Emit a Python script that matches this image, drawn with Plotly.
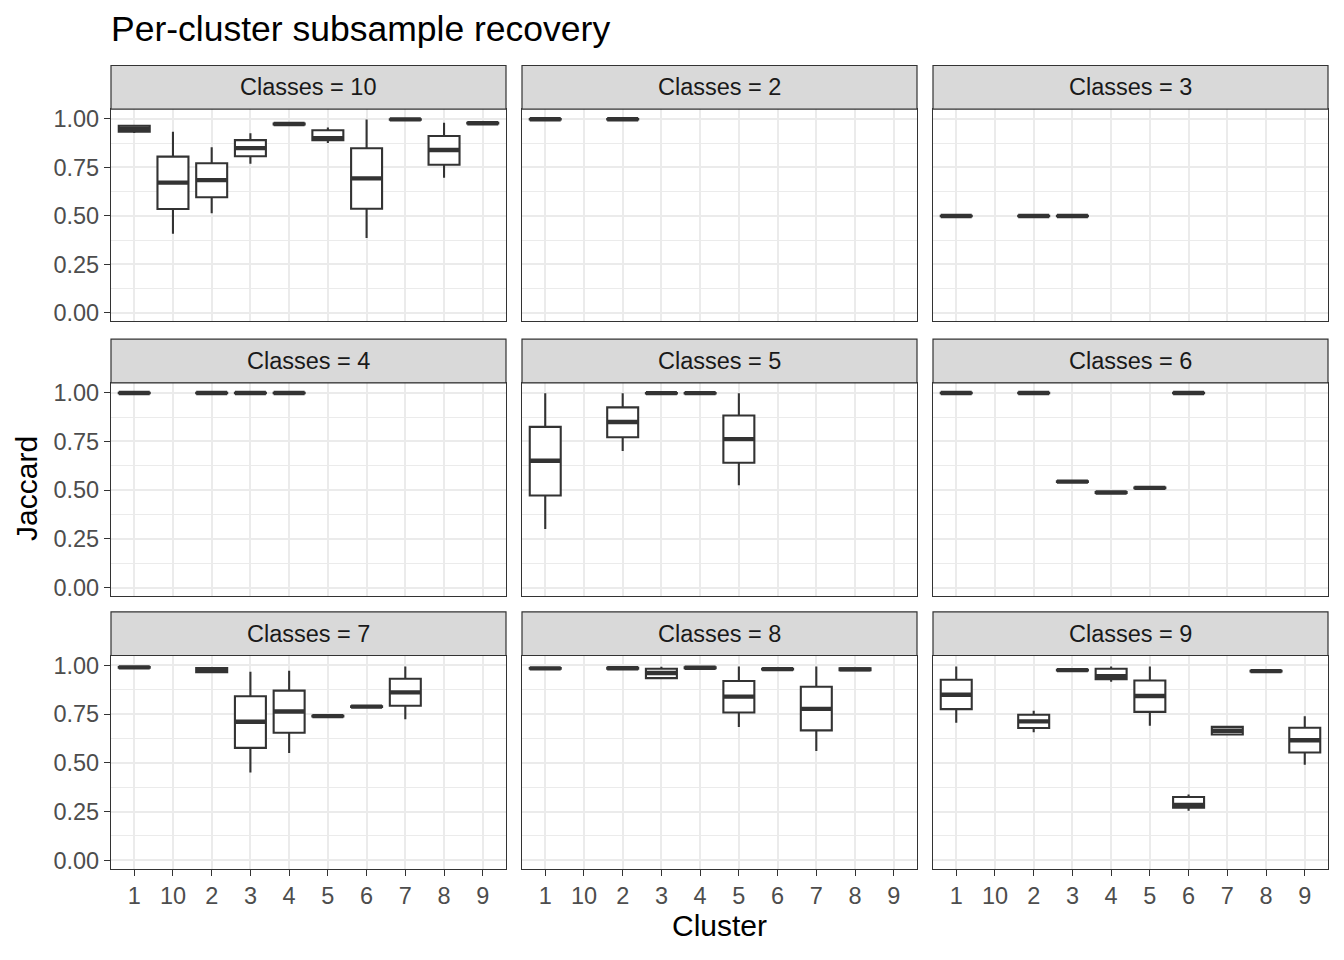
import plotly.graph_objects as go

# ---------------- data ----------------
cluster_order = ["1", "10", "2", "3", "4", "5", "6", "7", "8", "9"]
panel_order = [10, 2, 3, 4, 5, 6, 7, 8, 9]

classes = [10]*10 + [2]*2 + [3]*3 + [4]*4 + [5]*5 + [6]*6 + [7]*7 + [8]*8 + [9]*9
cluster = (["1", "10", "2", "3", "4", "5", "6", "7", "8", "9"]
           + ["1", "2"]
           + ["1", "2", "3"]
           + ["1", "2", "3", "4"]
           + ["1", "2", "3", "4", "5"]
           + ["1", "2", "3", "4", "5", "6"]
           + ["1", "2", "3", "4", "5", "6", "7"]
           + ["1", "2", "3", "4", "5", "6", "7", "8"]
           + ["1", "2", "3", "4", "5", "6", "7", "8", "9"])

lower = ([0.928, 0.408, 0.514, 0.769, 0.970, 0.876, 0.386, 0.995, 0.697, 0.975]
         + [0.996, 0.996]
         + [0.497, 0.497, 0.497]
         + [0.996, 0.996, 0.996, 0.996]
         + [0.301, 0.701, 0.995, 0.995, 0.526]
         + [0.996, 0.996, 0.540, 0.484, 0.508, 0.996]
         + [0.986, 0.960, 0.451, 0.551, 0.736, 0.785, 0.724]
         + [0.981, 0.982, 0.929, 0.984, 0.684, 0.977, 0.561, 0.974]
         + [0.706, 0.657, 0.972, 0.916, 0.690, 0.255, 0.641, 0.967, 0.491])
q1 = ([0.935, 0.536, 0.597, 0.808, 0.972, 0.891, 0.537, 0.997, 0.764, 0.977]
      + [0.998, 0.998]
      + [0.499, 0.499, 0.499]
      + [0.998, 0.998, 0.998, 0.998]
      + [0.473, 0.772, 0.997, 0.997, 0.641]
      + [0.998, 0.998, 0.542, 0.486, 0.510, 0.998]
      + [0.988, 0.966, 0.577, 0.655, 0.738, 0.787, 0.793]
      + [0.983, 0.984, 0.935, 0.986, 0.759, 0.979, 0.667, 0.976]
      + [0.776, 0.679, 0.974, 0.930, 0.762, 0.270, 0.646, 0.969, 0.553])
median = ([0.950, 0.672, 0.685, 0.850, 0.974, 0.901, 0.694, 0.998, 0.840, 0.978]
          + [0.999, 0.999]
          + [0.500, 0.500, 0.500]
          + [0.999, 0.999, 0.999, 0.999]
          + [0.651, 0.850, 0.998, 0.998, 0.762]
          + [0.999, 0.999, 0.544, 0.488, 0.512, 0.999]
          + [0.990, 0.976, 0.711, 0.764, 0.740, 0.789, 0.862]
          + [0.985, 0.986, 0.961, 0.988, 0.840, 0.981, 0.777, 0.980]
          + [0.850, 0.713, 0.976, 0.945, 0.843, 0.284, 0.665, 0.971, 0.616])
q3 = ([0.965, 0.806, 0.772, 0.891, 0.977, 0.942, 0.849, 0.999, 0.912, 0.980]
      + [1.000, 1.000]
      + [0.501, 0.501, 0.501]
      + [1.000, 1.000, 1.000, 1.000]
      + [0.825, 0.925, 0.999, 0.999, 0.883]
      + [1.000, 1.000, 0.546, 0.490, 0.514, 1.000]
      + [0.992, 0.987, 0.842, 0.871, 0.742, 0.791, 0.932]
      + [0.987, 0.988, 0.983, 0.990, 0.920, 0.983, 0.891, 0.986]
      + [0.927, 0.747, 0.978, 0.983, 0.923, 0.325, 0.685, 0.973, 0.680])
upper = ([0.970, 0.934, 0.854, 0.927, 0.979, 0.956, 0.998, 1.000, 0.981, 0.982]
         + [1.000, 1.000]
         + [0.503, 0.503, 0.503]
         + [1.000, 1.000, 1.000, 1.000]
         + [0.998, 0.998, 1.000, 1.000, 0.998]
         + [1.000, 1.000, 0.548, 0.492, 0.516, 1.000]
         + [0.993, 0.991, 0.968, 0.973, 0.744, 0.793, 0.995]
         + [0.988, 0.989, 0.993, 0.992, 0.995, 0.984, 0.995, 0.988]
         + [0.995, 0.767, 0.979, 0.995, 0.995, 0.338, 0.690, 0.974, 0.740])

y_tickvals = [0.0, 0.25, 0.5, 0.75, 1.0]
y_ticktext = ["0.00", "0.25", "0.50", "0.75", "1.00"]

# ---------------- layout geometry ----------------
W, H = 1344, 960
col_px = [(111, 506), (522, 917), (933, 1328)]
row_px = [(107, 321), (383, 598), (658, 873)]
strip_px = [(63, 107), (339, 383), (614, 658)]
FONT = "Liberation Sans, Arial, sans-serif"
DARK = "#333333"
TICK_SIZE = 23.5

fig = go.Figure()
layout = dict(
    width=W, height=H,
    margin=dict(l=0, r=0, t=0, b=0),
    paper_bgcolor="white", plot_bgcolor="white",
    showlegend=False,
    font=dict(family=FONT, size=TICK_SIZE, color="#4D4D4D"),
    shapes=[], annotations=[],
)

for i, k in enumerate(panel_order):
    r, c = divmod(i, 3)
    sfx = "" if i == 0 else str(i + 1)
    xa, ya = "x" + sfx, "y" + sfx
    idx = [j for j, v in enumerate(classes) if v == k]
    xs = [cluster[j] for j in idx]
    med = [median[j] for j in idx]
    fig.add_trace(go.Box(
        x=xs, q1=[q1[j] for j in idx], median=med, q3=[q3[j] for j in idx],
        lowerfence=[lower[j] for j in idx], upperfence=[upper[j] for j in idx],
        width=0.8, fillcolor="white", line=dict(color=DARK, width=2.1),
        whiskerwidth=0, boxpoints=False, xaxis=xa, yaxis=ya, hoverinfo="skip",
    ))
    # thick median line (ggplot fatten)
    fig.add_trace(go.Box(
        x=xs, q1=med, median=med, q3=med, lowerfence=med, upperfence=med,
        width=0.8, fillcolor=DARK, line=dict(color=DARK, width=4.4),
        whiskerwidth=0, boxpoints=False, xaxis=xa, yaxis=ya, hoverinfo="skip",
    ))

    x0, x1 = col_px[c]
    y0, y1 = row_px[r]
    bottom = (r == 2)
    left = (c == 0)
    layout["xaxis" + sfx] = dict(
        domain=[x0 / W, x1 / W], anchor=ya,
        type="category", categoryorder="array", categoryarray=cluster_order,
        range=[-0.6, 9.6], showgrid=True, gridcolor="#EBEBEB", gridwidth=2,
        showline=True, mirror=True, linecolor=DARK, linewidth=1.2,
        ticks="outside" if bottom else "", ticklen=6, tickwidth=1.3, tickcolor=DARK,
        showticklabels=bottom, tickfont=dict(size=TICK_SIZE, color="#4D4D4D"),
        zeroline=False, fixedrange=True,
    )
    layout["yaxis" + sfx] = dict(
        domain=[1 - y1 / H, 1 - y0 / H], anchor=xa,
        range=[-0.043, 1.051], tickmode="array", tickvals=y_tickvals, ticktext=y_ticktext,
        showgrid=True, gridcolor="#EBEBEB", gridwidth=2,
        minor=dict(tickmode="array", tickvals=[0.125, 0.375, 0.625, 0.875],
                   showgrid=True, gridcolor="#EBEBEB", gridwidth=1, ticks=""),
        showline=True, mirror=True, linecolor=DARK, linewidth=1.2,
        ticks="outside" if left else "", ticklen=6, tickwidth=1.3, tickcolor=DARK,
        showticklabels=left, tickfont=dict(size=TICK_SIZE, color="#4D4D4D"),
        zeroline=False, fixedrange=True,
    )
    # strip
    s0, s1 = strip_px[r]
    layout["shapes"].append(dict(
        type="rect", xref="paper", yref="paper",
        x0=x0 / W, x1=x1 / W, y0=1 - s1 / H, y1=1 - s0 / H,
        fillcolor="#D9D9D9", line=dict(color=DARK, width=1.2), layer="above",
    ))
    layout["annotations"].append(dict(
        text=f"Classes = {k}", xref="paper", yref="paper",
        x=(x0 + x1) / 2 / W, y=1 - (s0 + s1) / 2 / H,
        xanchor="center", yanchor="middle", showarrow=False,
        font=dict(size=TICK_SIZE, color="#1A1A1A", family=FONT),
    ))

layout["annotations"] += [
    dict(text="Per-cluster subsample recovery", xref="paper", yref="paper",
         x=109 / W, y=1 - 26 / H, xanchor="left", yanchor="middle", showarrow=False,
         font=dict(size=35.5, color="black", family=FONT)),
    dict(text="Cluster", xref="paper", yref="paper",
         x=719.5 / W, y=1 - 930 / H, xanchor="center", yanchor="middle", showarrow=False,
         font=dict(size=30, color="black", family=FONT)),
    dict(text="Jaccard", xref="paper", yref="paper", textangle=-90,
         x=27 / W, y=1 - 490 / H, xanchor="center", yanchor="middle", showarrow=False,
         font=dict(size=30, color="black", family=FONT)),
]

fig.update_layout(**layout)
fig.write_html("out.html", config={"displayModeBar": False},
               post_script="document.body.style.margin='0';document.body.style.overflow='hidden';")
